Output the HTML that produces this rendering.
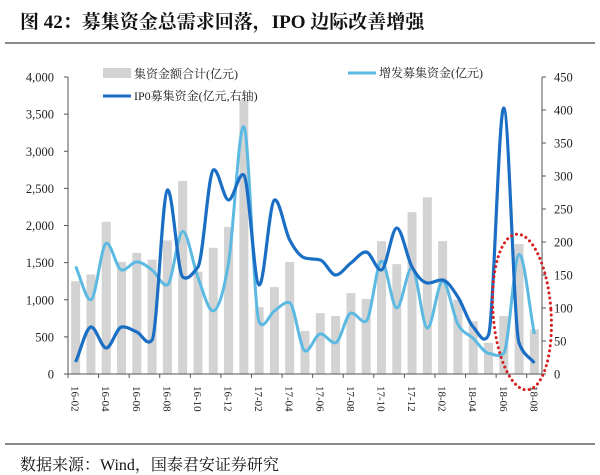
<!DOCTYPE html>
<html><head><meta charset="utf-8"><style>
body{margin:0;background:#fff;width:600px;height:475px;overflow:hidden}
svg{display:block}
text{font-family:"Liberation Serif","Noto Serif CJK SC",serif}
</style></head><body>
<svg id="s" width="600" height="475" viewBox="0 0 600 475" xmlns="http://www.w3.org/2000/svg">
<text x="20" y="28" font-size="19" font-weight="bold" fill="#111" style="font-family:'Liberation Serif','Noto Serif CJK SC',serif">图 42：募集资金总需求回落，IPO 边际改善增强</text>
<line x1="5" y1="43" x2="595" y2="43" stroke="#444" stroke-width="1.2"/>
<line x1="5" y1="444" x2="595" y2="444" stroke="#444" stroke-width="1.2"/>
<text x="20" y="470" font-size="16" fill="#111">数据来源：Wind，国泰君安证券研究</text>
<g id="bars" fill="#d3d3d3"></g>
<g id="axes" stroke="#555" stroke-width="1"></g>
<g id="labels" font-size="12.5" fill="#222"></g>
<path id="light" fill="none" stroke="#5cb9e2" stroke-width="3"/>
<path id="dark" fill="none" stroke="#1a6ec4" stroke-width="3.2"/>
<ellipse cx="522" cy="312" rx="29" ry="78" fill="none" stroke="#d42020" stroke-width="3" stroke-dasharray="0.1 5" stroke-linecap="round" transform="rotate(-4 522 312)"/>
<rect x="103" y="68" width="28" height="10" fill="#d3d3d3"/>
<text x="134" y="78" font-size="12" fill="#222">集资金额合计(亿元)</text>
<line x1="103" y1="96" x2="131" y2="96" stroke="#1a6ec4" stroke-width="3"/>
<text x="134" y="100" font-size="12" fill="#222">IP0募集资金(亿元,右轴)</text>
<line x1="348" y1="73" x2="376" y2="73" stroke="#5cb9e2" stroke-width="3"/>
<text x="379" y="77" font-size="12" fill="#222">增发募集资金(亿元)</text>
</svg>
<script>
var X0=68,X1=542,Y0=374,Y1=77,N=31,w=(X1-X0)/N;
function cx(i){return X0+w*(i+0.5)}
function yl(v){return Y0-(v/4000)*(Y0-Y1)}
var bars=[1250,1340,2050,1510,1630,1540,1800,2600,1380,1700,1980,3700,900,1170,1510,580,820,780,1090,1010,1790,1480,2180,2380,1790,1000,710,420,780,1750,600];
var light=[1450,1000,1760,1400,1510,1400,1200,1920,1300,850,1500,3330,700,850,960,310,540,420,820,710,1520,890,1430,620,1250,670,480,280,280,1610,540];
var darkY=[362,327,348,327,332,340,190,277,267,170,200,175,285,200,240,258,260,275,263,252,270,228,267,283,280,297,327,335,108,343,363];
var ns="http://www.w3.org/2000/svg";
function el(p,t,a,txt){var e=document.createElementNS(ns,t);for(var k in a)e.setAttribute(k,a[k]);if(txt)e.textContent=txt;document.getElementById(p).appendChild(e);return e}
bars.forEach(function(v,i){el("bars","rect",{x:cx(i)-4.5,y:yl(v),width:9,height:Y0-yl(v)})});
el("axes","line",{x1:X0,y1:Y1,x2:X0,y2:Y0});
el("axes","line",{x1:X1,y1:Y1,x2:X1,y2:Y0});
el("axes","line",{x1:X0,y1:Y0,x2:X1,y2:Y0});
for(var k=0;k<=8;k++){var y=Y0-k*(Y0-Y1)/8;
 el("axes","line",{x1:X0-4,y1:y,x2:X0,y2:y});
 el("labels","text",{x:54,y:y+4.5,"text-anchor":"end"},(k*500).toLocaleString("en-US"));}
for(var k=0;k<=9;k++){var y=Y0-k*(Y0-Y1)/9;
 el("axes","line",{x1:X1,y1:y,x2:X1+4,y2:y});
 el("labels","text",{x:554,y:y+4.5},String(k*50));}
for(var i=0;i<=N;i+=2){el("axes","line",{x1:X0+w*i,y1:Y0,x2:X0+w*i,y2:Y0+4});}
var mons=["16-02","16-04","16-06","16-08","16-10","16-12","17-02","17-04","17-06","17-08","17-10","17-12","18-02","18-04","18-06","18-08"];
mons.forEach(function(m,j){var x=cx(j*2)-4;el("labels","text",{x:x,y:386,"font-size":"11",transform:"rotate(90 "+x+" 386)"},m)});
function path(pts){var n=pts.length,m=[];
 for(var i=0;i<n;i++){var a=i>0?(pts[i][1]-pts[i-1][1])/w:null,b=i<n-1?(pts[i+1][1]-pts[i][1])/w:null,t;
  if(a===null)t=b;else if(b===null)t=a;else{t=(a+b)/2;
   if(a*b<=0)t=t*0.3;else{var lim=2*Math.min(Math.abs(a),Math.abs(b));if(Math.abs(t)>lim)t=Math.sign(t)*lim;}}
  m.push(t);}
 var d="M"+pts[0][0]+","+pts[0][1];
 for(var i=0;i<n-1;i++){var p1=pts[i],p2=pts[i+1];
  d+=" C"+(p1[0]+w/3)+","+(p1[1]+m[i]*w/3)+" "+(p2[0]-w/3)+","+(p2[1]-m[i+1]*w/3)+" "+p2[0]+","+p2[1];}
 return d}
document.getElementById("light").setAttribute("d",path(light.map(function(v,i){return [cx(i),yl(v)]})));
document.getElementById("dark").setAttribute("d",path(darkY.map(function(v,i){return [cx(i),v]})));
</script>
</body></html>
